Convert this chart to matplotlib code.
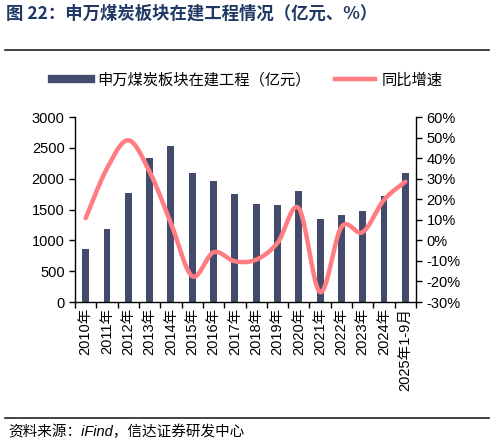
import numpy as np
import matplotlib
matplotlib.use("Agg")
import matplotlib.pyplot as plt
from matplotlib.lines import Line2D

plt.rcParams['font.family'] = ['Liberation Sans', 'Noto Sans CJK SC', 'DejaVu Sans']

years = ['2010年', '2011年', '2012年', '2013年', '2014年', '2015年', '2016年', '2017年',
         '2018年', '2019年', '2020年', '2021年', '2022年', '2023年', '2024年', '2025年1-9月']
construction = [866, 1188, 1763, 2328, 2532, 2086, 1957, 1753,
                1597, 1570, 1801, 1344, 1409, 1468, 1715, 2091]
growth = [10.8, 35.0, 48.7, 33.4, 8.4, -17.4, -5.8, -10.2,
          -9.4, -1.3, 15.6, -25.2, 6.5, 4.0, 19.7, 28.5]

bar_color = '#434B6C'
line_color = '#FF7C80'


def smooth(x, y, n=30):
    # excel-like smoothed line (catmull-rom through the points)
    x = np.asarray(x, float)
    y = np.asarray(y, float)
    px = np.concatenate([[x[0]], x, [x[-1]]])
    py = np.concatenate([[y[0]], y, [y[-1]]])
    xs, ys = [], []
    for i in range(1, len(px) - 2):
        t = np.linspace(0, 1, n)
        p0, p1, p2, p3 = px[i - 1], px[i], px[i + 1], px[i + 2]
        q0, q1, q2, q3 = py[i - 1], py[i], py[i + 1], py[i + 2]
        b1x, b1y = p1 + (p2 - p0) / 6, q1 + (q2 - q0) / 6
        b2x, b2y = p2 - (p3 - p1) / 6, q2 - (q3 - q1) / 6
        xs.append((1 - t) ** 3 * p1 + 3 * (1 - t) ** 2 * t * b1x + 3 * (1 - t) * t ** 2 * b2x + t ** 3 * p2)
        ys.append((1 - t) ** 3 * q1 + 3 * (1 - t) ** 2 * t * b1y + 3 * (1 - t) * t ** 2 * b2y + t ** 3 * q2)
    return np.concatenate(xs), np.concatenate(ys)


W, H = 494, 444
fig = plt.figure(figsize=(W / 100, H / 100), dpi=100)
ax = fig.add_axes([75 / W, 1 - 302 / H, (416 - 75) / W, (302 - 117) / H])
ax2 = ax.twinx()

x = np.arange(len(years))
bars = ax.bar(x, construction, width=0.32, color=bar_color, zorder=2)
sx, sy = smooth(x, growth)
ax2.plot(sx, sy, color=line_color, lw=3.2, solid_capstyle='round', zorder=3)

ax.set_xlim(-0.5, len(years) - 0.5)
ax.set_ylim(0, 3000)
ax.set_yticks(np.arange(0, 3001, 500))
ax2.set_ylim(-30, 60)
ax2.set_yticks(np.arange(-30, 61, 10))
ax2.set_yticklabels([f'{v}%' for v in range(-30, 61, 10)])

ax.set_xticks(x)
ax.set_xticklabels(years, rotation=90, fontsize=10.5)
ax.set_xticks(np.arange(-0.5, len(years), 1), minor=True)
ax.tick_params(axis='x', which='major', length=0, pad=4)
ax.tick_params(axis='x', which='minor', length=4, direction='out', width=1)
ax.tick_params(axis='y', length=4, direction='out', labelsize=10.5, width=1)
ax2.tick_params(axis='y', length=4, direction='out', labelsize=10.5, width=1)

for a in (ax, ax2):
    a.spines['top'].set_visible(False)
    for s in ('left', 'right', 'bottom'):
        a.spines[s].set_linewidth(1)
ax.spines['right'].set_visible(False)
ax2.spines['left'].set_visible(False)
ax2.spines['bottom'].set_visible(False)

handles = [Line2D([0], [0], color=bar_color, lw=6),
           Line2D([0], [0], color=line_color, lw=3.2)]
fig.legend(handles, ['申万煤炭板块在建工程（亿元）', '同比增速'], loc='center',
           bbox_to_anchor=(0.5, 1 - 80 / H), ncol=2, frameon=False, fontsize=11,
           handlelength=2.6, columnspacing=1.6, handletextpad=0.4)

fig.text(6 / W, 1 - 14 / H, '图 22：申万煤炭板块在建工程情况（亿元、%）', fontsize=12.5,
         color='#1F3864', fontweight='bold', va='center', ha='left',
         family=['Noto Sans CJK SC', 'DejaVu Sans'])
fig.add_artist(Line2D([5 / W, 489 / W], [1 - 50 / H, 1 - 50 / H], color='#222222', lw=1.2))
fig.add_artist(Line2D([5 / W, 489 / W], [1 - 418 / H, 1 - 418 / H], color='#222222', lw=1.2))
fig.text(8 / W, 1 - 432 / H, '资料来源：iFind，信达证券研发中心', fontsize=10.5, style='italic',
         va='center', ha='left')

fig.savefig('out.png', dpi=100)
